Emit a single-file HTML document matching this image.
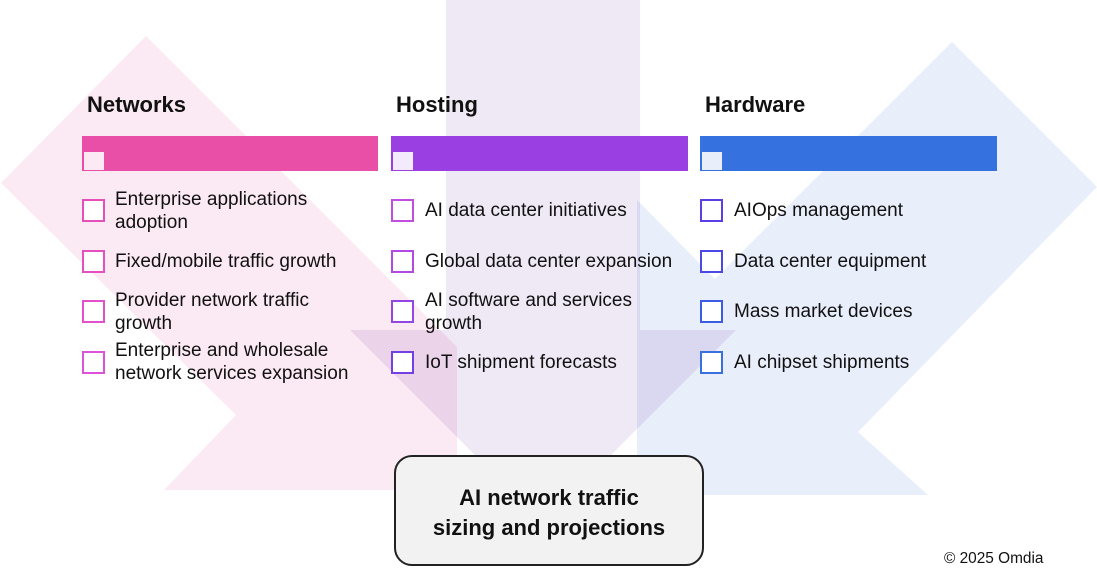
<!DOCTYPE html>
<html><head><meta charset="utf-8"><style>
body{margin:0;width:1097px;height:580px;background:#fff;position:relative;overflow:hidden;font-family:"Liberation Sans",sans-serif;color:#111}
svg{position:absolute;left:0;top:0}
.h{position:absolute;top:92px;font-weight:bold;font-size:22px}
.bar{position:absolute;top:136px;width:296px;height:35px}
.bar i{position:absolute;left:2px;top:16px;width:20px;height:18px}
.cb{position:absolute;width:19px;height:19px;border:2px solid;background:#fff}
.t{position:absolute;font-size:19px;line-height:23px;width:300px;white-space:nowrap}
.box{position:absolute;left:394px;top:455px;border:2px solid #222;border-radius:18px;background:#f2f2f2;text-align:center;font-weight:bold;font-size:22px;line-height:30px;box-sizing:border-box;padding-top:26px;width:310px;height:111px}
</style></head><body>
<svg width="1097" height="580">
<g style="mix-blend-mode:multiply">
<polygon points="146,36 1,183 236,415 164,490 457,490 457,347" fill="#fbe9f4"/>
</g>
<g style="mix-blend-mode:multiply">
<polygon points="446,0 640,0 640,330 736,330 543,523 350,330 446,330" fill="#efe8f5"/>
</g>
<g style="mix-blend-mode:multiply">
<polygon points="952,42 1097,187 858,432 928,495 637,495 637,200 715,279" fill="#e9eefb"/>
</g>
</svg>
<div class="h" style="left:87px">Networks</div>
<div class="h" style="left:396px">Hosting</div>
<div class="h" style="left:705px">Hardware</div>
<div class="bar" style="left:82px;background:#ea4fa8"><i style="background:#fbe9f4"></i></div>
<div class="bar" style="left:391px;background:#9a40e3;width:297px"><i style="background:#f3eafb"></i></div>
<div class="bar" style="left:700px;background:#3572e0;width:297px"><i style="background:#e9eefb"></i></div>

<div class="cb" style="left:82px;top:199px;border-color:#e64fb8"></div>
<div class="cb" style="left:82px;top:250px;border-color:#e64fc0"></div>
<div class="cb" style="left:82px;top:300px;border-color:#e250cc"></div>
<div class="cb" style="left:82px;top:351px;border-color:#dc52d8"></div>
<div class="t" style="left:115px;top:188px">Enterprise applications<br>adoption</div>
<div class="t" style="left:115px;top:250px">Fixed/mobile traffic growth</div>
<div class="t" style="left:115px;top:289px">Provider network traffic<br>growth</div>
<div class="t" style="left:115px;top:339px">Enterprise and wholesale<br>network services expansion</div>

<div class="cb" style="left:391px;top:199px;border-color:#c24ee0"></div>
<div class="cb" style="left:391px;top:250px;border-color:#b04ae2"></div>
<div class="cb" style="left:391px;top:300px;border-color:#9346e2"></div>
<div class="cb" style="left:391px;top:351px;border-color:#7440e2"></div>
<div class="t" style="left:425px;top:199px">AI data center initiatives</div>
<div class="t" style="left:425px;top:250px">Global data center expansion</div>
<div class="t" style="left:425px;top:289px">AI software and services<br>growth</div>
<div class="t" style="left:425px;top:351px">IoT shipment forecasts</div>

<div class="cb" style="left:700px;top:199px;border-color:#5a3ee6"></div>
<div class="cb" style="left:700px;top:250px;border-color:#4a48e6"></div>
<div class="cb" style="left:700px;top:300px;border-color:#3c5ce4"></div>
<div class="cb" style="left:700px;top:351px;border-color:#3870e0"></div>
<div class="t" style="left:734px;top:199px">AIOps management</div>
<div class="t" style="left:734px;top:250px">Data center equipment</div>
<div class="t" style="left:734px;top:300px">Mass market devices</div>
<div class="t" style="left:734px;top:351px">AI chipset shipments</div>

<div class="box">AI network traffic<br>sizing and projections</div>
<div style="position:absolute;left:944px;top:550px;font-size:15.4px">© 2025 Omdia</div>
</body></html>
